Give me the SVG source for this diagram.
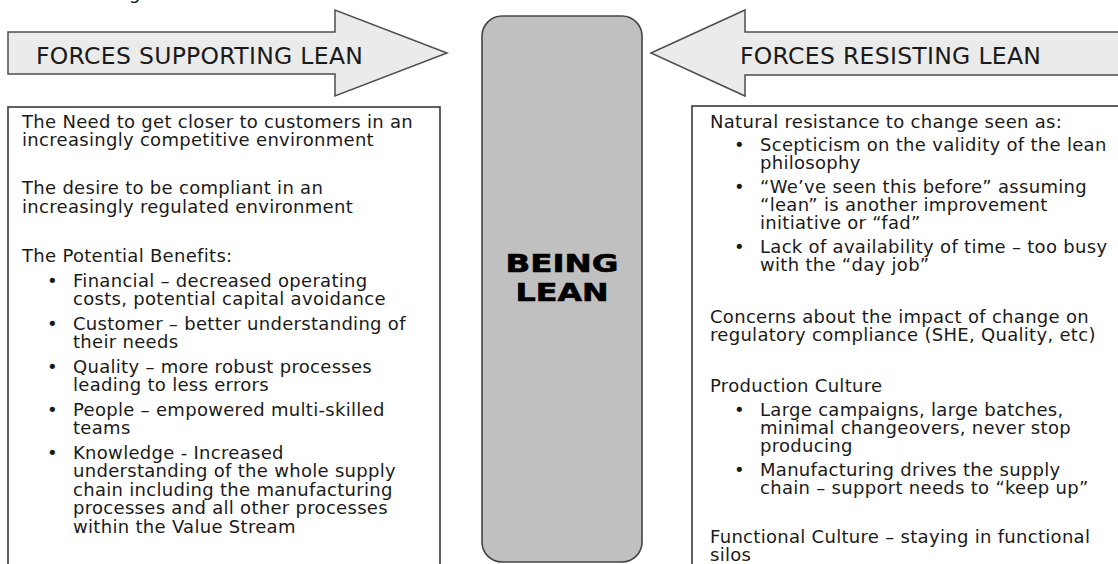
<svg xmlns="http://www.w3.org/2000/svg" width="1118" height="564" viewBox="0 0 1118 564">
  <style>
    .arrow { fill: #ebebeb; stroke: #4d4d4d; stroke-width: 1.5; stroke-linejoin: miter; }
    .box { fill: #ffffff; stroke: #3a3a3a; stroke-width: 1.6; }
    .pill { fill: #c0c0c0; stroke: #444444; stroke-width: 1.6; }
    .hdr { font-family: "DejaVu Sans", Verdana, sans-serif; font-size: 23.5px; letter-spacing: 0.3px; fill: #1a1a1a; }
    .t { font-family: "DejaVu Sans", Verdana, sans-serif; font-size: 18px; letter-spacing: 0.3px; fill: #1a1a1a; }
    .big { font-family: "DejaVu Sans", Verdana, sans-serif; font-size: 24px; font-weight: bold; fill: #000000; stroke: #000000; stroke-width: 0.6; }
  </style>

  <text class="t" x="129" y="-1">g</text>

  <g id="connectors">
    <g id="arrow-supporting">
      <polygon class="arrow" points="8,32 335,32 335,10 447,53 335,96 335,74 8,74"/>
      <text class="hdr" x="36" y="63.5">FORCES SUPPORTING LEAN</text>
    </g>
    <g id="arrow-resisting">
      <polygon class="arrow" points="651,53 745,10 745,32 1122,32 1122,75 745,75 745,96"/>
      <text class="hdr" x="740" y="63.5">FORCES RESISTING LEAN</text>
    </g>
  </g>

  <g id="being-lean">
    <rect class="pill" x="482" y="16" width="160" height="546" rx="20" ry="20"/>
    <text class="big" x="562" y="272" text-anchor="middle" textLength="113" lengthAdjust="spacingAndGlyphs">BEING</text>
    <text class="big" x="562" y="301" text-anchor="middle" textLength="93" lengthAdjust="spacingAndGlyphs">LEAN</text>
  </g>

  <g id="box-supporting">
    <rect class="box" x="8" y="107" width="432" height="480"/>
    <text class="t" x="22" y="127.5">The Need to get closer to customers in an</text>
    <text class="t" x="22" y="146">increasingly competitive environment</text>
    <text class="t" x="22" y="194">The desire to be compliant in an</text>
    <text class="t" x="22" y="212.5">increasingly regulated environment</text>
    <text class="t" x="22" y="261.5">The Potential Benefits:</text>
    <text class="t" x="47" y="286.5">•</text>
    <text class="t" x="73" y="286.5">Financial – decreased operating</text>
    <text class="t" x="73" y="305">costs, potential capital avoidance</text>
    <text class="t" x="47" y="329.5">•</text>
    <text class="t" x="73" y="329.5">Customer – better understanding of</text>
    <text class="t" x="73" y="348">their needs</text>
    <text class="t" x="47" y="372.5">•</text>
    <text class="t" x="73" y="372.5">Quality – more robust processes</text>
    <text class="t" x="73" y="391">leading to less errors</text>
    <text class="t" x="47" y="415.5">•</text>
    <text class="t" x="73" y="415.5">People – empowered multi-skilled</text>
    <text class="t" x="73" y="434">teams</text>
    <text class="t" x="47" y="458.5">•</text>
    <text class="t" x="73" y="458.5">Knowledge - Increased</text>
    <text class="t" x="73" y="477">understanding of the whole supply</text>
    <text class="t" x="73" y="495.5">chain including the manufacturing</text>
    <text class="t" x="73" y="514">processes and all other processes</text>
    <text class="t" x="73" y="532.5">within the Value Stream</text>
  </g>

  <g id="box-resisting">
    <rect class="box" x="692" y="106" width="440" height="480"/>
    <text class="t" x="710" y="127.5">Natural resistance to change seen as:</text>
    <text class="t" x="734" y="151">•</text>
    <text class="t" x="760" y="151">Scepticism on the validity of the lean</text>
    <text class="t" x="760" y="169.3">philosophy</text>
    <text class="t" x="734" y="192.8">•</text>
    <text class="t" x="760" y="192.8">“We’ve seen this before” assuming</text>
    <text class="t" x="760" y="211.1">“lean” is another improvement</text>
    <text class="t" x="760" y="229.4">initiative or “fad”</text>
    <text class="t" x="734" y="252.9">•</text>
    <text class="t" x="760" y="252.9">Lack of availability of time – too busy</text>
    <text class="t" x="760" y="271.2">with the “day job”</text>
    <text class="t" x="710" y="323">Concerns about the impact of change on</text>
    <text class="t" x="710" y="341.3">regulatory compliance (SHE, Quality, etc)</text>
    <text class="t" x="710" y="392">Production Culture</text>
    <text class="t" x="734" y="415.5">•</text>
    <text class="t" x="760" y="415.5">Large campaigns, large batches,</text>
    <text class="t" x="760" y="433.8">minimal changeovers, never stop</text>
    <text class="t" x="760" y="452.1">producing</text>
    <text class="t" x="734" y="476">•</text>
    <text class="t" x="760" y="476">Manufacturing drives the supply</text>
    <text class="t" x="760" y="494.3">chain – support needs to “keep up”</text>
    <text class="t" x="710" y="543">Functional Culture – staying in functional</text>
    <text class="t" x="710" y="561.3">silos</text>
  </g>
</svg>
